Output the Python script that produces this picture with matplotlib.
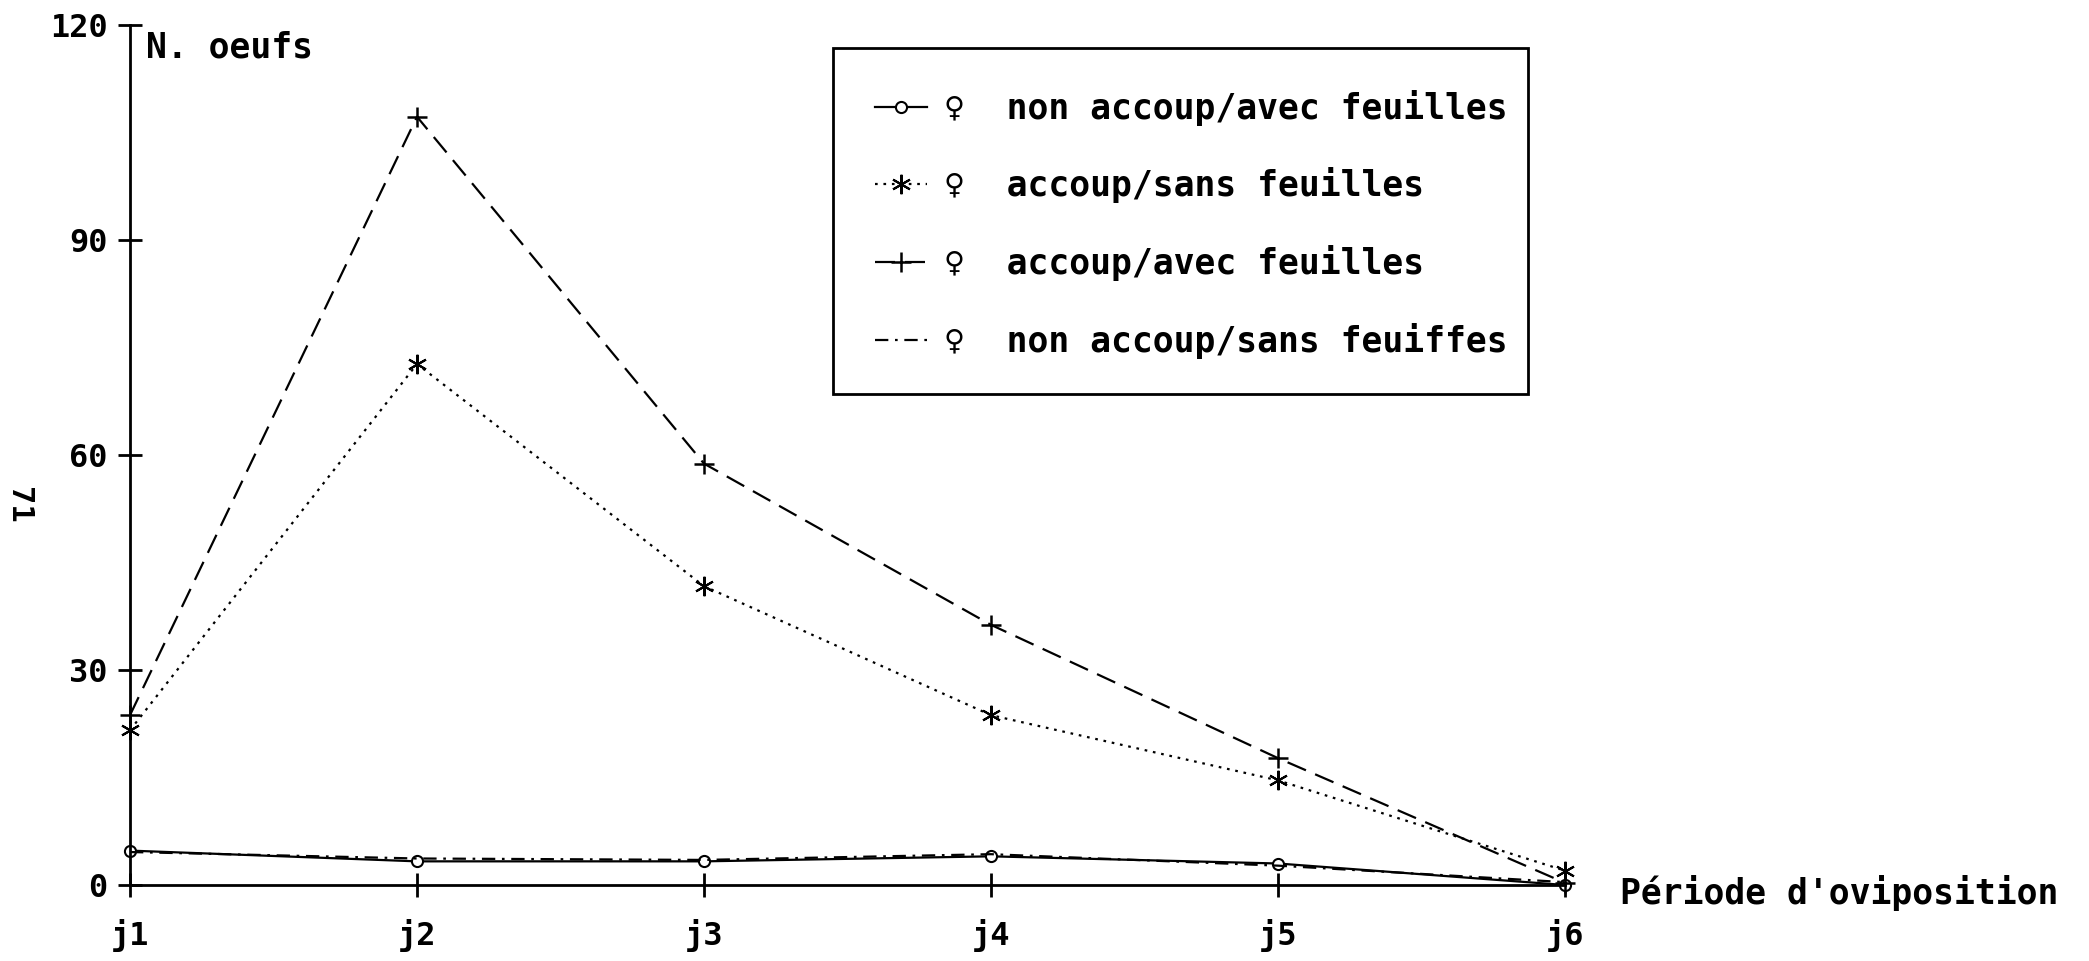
import matplotlib
matplotlib.use("Agg")
import matplotlib.pyplot as plt
from matplotlib.patches import Rectangle

# data
days = ['j1', 'j2', 'j3', 'j4', 'j5', 'j6']
non_accoup_avec = [4.8, 3.3, 3.3, 4.0, 3.0, 0.0]
accoup_sans = [21.6, 72.7, 41.7, 23.7, 14.6, 2.0]
accoup_avec = [23.7, 107.2, 58.8, 36.3, 17.7, 0.3]
non_accoup_sans = [4.6, 3.7, 3.5, 4.3, 2.7, 0.4]

labels = ['\u2640  non accoup/avec feuilles',
          '\u2640  accoup/sans feuilles',
          '\u2640  accoup/avec feuilles',
          '\u2640  non accoup/sans feuiffes']
y_ticks = [0, 30, 60, 90, 120]

plt.rcParams['font.family'] = ['DejaVu Sans Mono', 'DejaVu Sans']
plt.rcParams['font.weight'] = 'bold'

W, H = 2089, 961
fig = plt.figure(figsize=(W / 100, H / 100), dpi=100)
ax = fig.add_axes([130 / W, 1 - 885 / H, (1565 - 130) / W, (885 - 25) / H])

x = list(range(len(days)))
lw = 1.6
l1, = ax.plot(x, non_accoup_avec, color='black', lw=lw, marker='o', ms=8,
              mfc='white', mew=1.5, clip_on=False)
l2, = ax.plot(x, accoup_sans, color='black', lw=lw, dashes=(1.2, 2.6),
              marker=(6, 2, 0), ms=14, mew=1.5, clip_on=False)
l3, = ax.plot(x, accoup_avec, color='black', lw=lw, dashes=(9, 4.5),
              marker='+', ms=15, mew=1.8, clip_on=False)
l4, = ax.plot(x, non_accoup_sans, color='black', lw=lw,
              dashes=(6, 3, 1.2, 3), clip_on=False)

ax.set_xlim(0, 5)
ax.set_ylim(0, 120)
ax.set_xticks(x)
ax.set_xticklabels(days)
ax.set_yticks(y_ticks)
for s in ['top', 'right']:
    ax.spines[s].set_visible(False)
for s in ['left', 'bottom']:
    ax.spines[s].set_linewidth(2)
ax.tick_params(axis='both', direction='inout', length=17, width=2,
               labelsize=23)
ax.tick_params(axis='y', pad=7.5)
ax.tick_params(axis='x', pad=16)

fig.text(146 / W, 1 - 47 / H, 'N. oeufs', fontsize=25, ha='left',
         va='center')
fig.text(1620 / W, 1 - 893 / H, "Période d'oviposition", fontsize=25,
         ha='left', va='center')
fig.text(18 / W, 1 - 505 / H, '71', fontsize=22, rotation=-90,
         ha='center', va='center')

# legend entries without its own frame; box drawn separately (tighter on the right)
fig.legend([l1, l2, l3, l4], labels, loc='upper left',
           bbox_to_anchor=(833 / W, 1 - 48 / H), fontsize=25,
           frameon=False, handlelength=1.5, handletextpad=0.5,
           labelspacing=1.2, borderpad=1.2, borderaxespad=0)
fig.patches.append(Rectangle((833 / W, 1 - 394 / H), (1528 - 833) / W,
                             (394 - 48) / H, transform=fig.transFigure,
                             fill=False, edgecolor='black', lw=2))

fig.savefig('out.png', dpi=100)
